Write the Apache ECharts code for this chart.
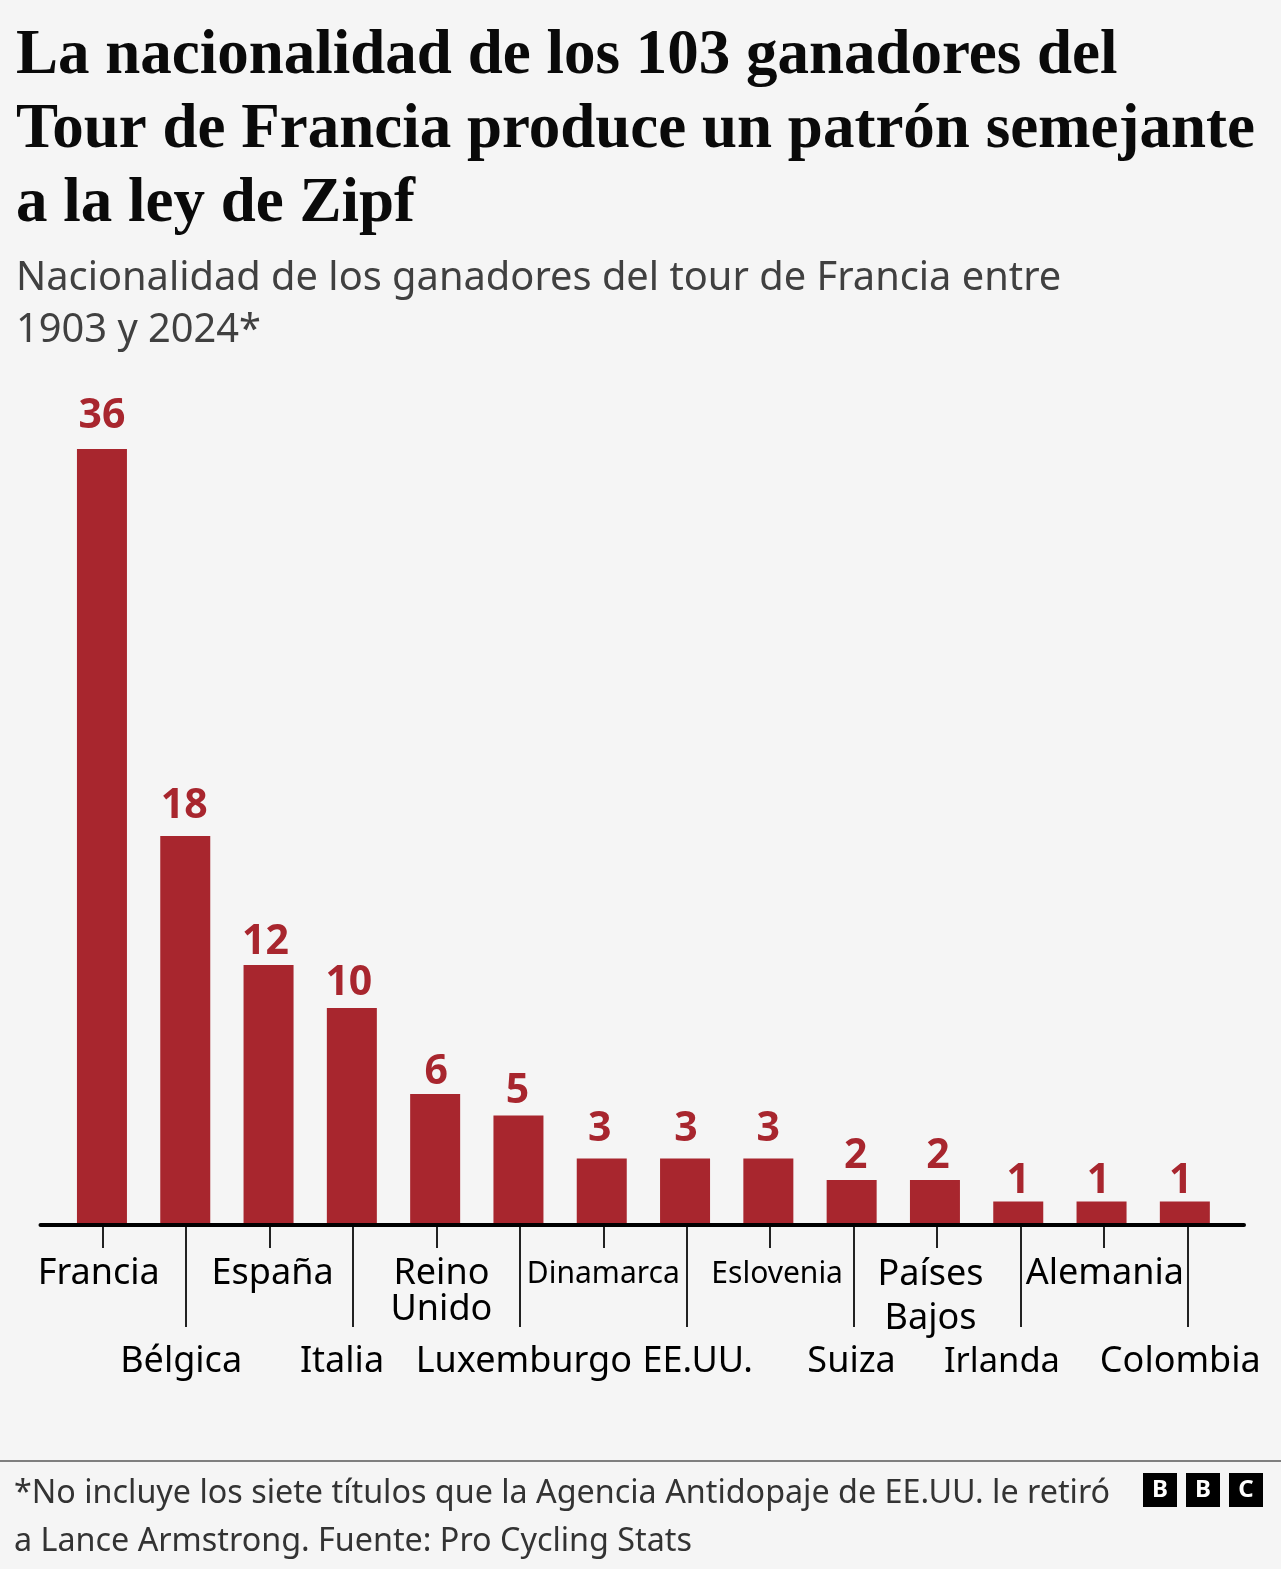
<!DOCTYPE html>
<html>
<head>
<meta charset="utf-8">
<style>
  html, body { margin: 0; padding: 0; background: #f5f5f5; }
  #chart { width: 1281px; height: 1569px; }
</style>
<script src="https://cdn.jsdelivr.net/npm/echarts@6/dist/echarts.min.js"></script>
</head>
<body>
<div id="chart"></div>
<script>
const countries = ['Francia', 'Bélgica', 'España', 'Italia', 'Reino\nUnido', 'Luxemburgo', 'Dinamarca', 'EE.UU.', 'Eslovenia', 'Suiza', 'Países\nBajos', 'Irlanda', 'Alemania', 'Colombia']
const wins = [36, 18, 12, 10, 6, 5, 3, 3, 3, 2, 2, 1, 1, 1]

const titleText = 'La nacionalidad de los 103 ganadores del\nTour de Francia produce un patrón semejante\na la ley de Zipf'
const subtitleText = 'Nacionalidad de los ganadores del tour de Francia entre\n1903 y 2024*'
const footText = '*No incluye los siete títulos que la Agencia Antidopaje de EE.UU. le retiró\na Lance Armstrong. Fuente: Pro Cycling Stats'

// ajustes finos de las etiquetas, no son datos
const valueNudge = [[0, -7], [-1, -4], [-3, 3], [-3, 1], [1, 4], [-1, 1], [-2, -4], [1, -4], [0, -4], [4, 2], [3, 2], [0, 5], [-3, 5], [-4, 5]]
const nameNudge = [-4, -5, 3, -11, 5, 4, 0, 11, 7, -2, -6.5, -18.5, 1, -7]
const nameSizes = { 'Dinamarca': 30, 'Eslovenia': 30, 'Irlanda': 34.5 }

const red = '#a8262e'
const sans = '"Noto Sans", sans-serif'

function nameItem(name, i) {
  // padding desplaza el texto centrado sin salir de la escala del eje
  let dx = nameNudge[i]
  let tall = name.indexOf('Países') === 0
  let top = tall ? 0 : 3
  return {
    value: name,
    textStyle: {
      fontSize: nameSizes[name] || 36,
      lineHeight: tall ? 44 : 36,
      padding: dx > 0 ? [top, 0, 0, dx * 2] : [top, -dx * 2, 0, 0]
    }
  }
}

function bottomAxis(keep, tickLen, margin) {
  return {
    type: 'category',
    gridIndex: 1,
    position: 'bottom',
    data: countries.map(nameItem),
    axisLine: { show: false },
    axisTick: {
      show: true,
      alignWithLabel: true,
      length: tickLen,
      interval: keep,
      lineStyle: { color: '#222', width: 2 }
    },
    axisLabel: {
      interval: keep,
      margin: margin,
      color: '#000',
      fontFamily: sans,
      hideOverlap: false
    }
  }
}

let myChart = echarts.init(document.getElementById('chart'), null, { renderer: 'canvas' })

myChart.setOption({
  animation: false,
  backgroundColor: '#f5f5f5',
  title: [
    { text: titleText, left: 11, top: 15, textStyle: { fontFamily: '"Liberation Serif", serif', fontWeight: 'bold', fontSize: 63, lineHeight: 74, color: '#0a0a0a' } },
    { text: subtitleText, left: 11, top: 248, textStyle: { fontFamily: sans, fontWeight: 'normal', fontSize: 39.8, lineHeight: 52, color: '#404040' } },
    { text: footText, left: 9, top: 1465, textStyle: { fontFamily: sans, fontWeight: 'normal', fontSize: 32.3, lineHeight: 48, color: '#333' } }
  ],
  // las barras y las marcas del eje no van exactamente a la par en el original
  grid: [
    { left: 60.3, width: 1166.2, top: 449, height: 774 },
    { left: 61, width: 1168, top: 449, height: 775 }
  ],
  xAxis: [
    { type: 'category', gridIndex: 0, data: countries, show: false },
    bottomAxis(function (i) { return i % 2 === 0 }, 24, 29),
    bottomAxis(function (i) { return i % 2 === 1 }, 103, 117)
  ],
  yAxis: [
    { type: 'value', gridIndex: 0, min: 0, max: 36, show: false },
    { type: 'value', gridIndex: 1, min: 0, max: 36, show: false }
  ],
  series: [{
    type: 'bar',
    xAxisIndex: 0,
    yAxisIndex: 0,
    barWidth: 50,
    itemStyle: { color: red },
    label: {
      show: true,
      position: 'top',
      distance: 5,
      color: red,
      fontFamily: sans,
      fontWeight: 'bold',
      fontSize: 41
    },
    data: wins.map(function (v, i) {
      return { value: v, label: { offset: valueNudge[i] } }
    })
  }],
  graphic: [
    { type: 'line', shape: { x1: 40.5, y1: 1225, x2: 1244, y2: 1225 }, style: { stroke: '#000', lineWidth: 4, lineCap: 'round' }, z: 10 },
    { type: 'rect', shape: { x: 0, y: 1460, width: 1281, height: 2 }, style: { fill: '#7f7f7f' } },
    { type: 'rect', shape: { x: 1143, y: 1473, width: 34, height: 34 }, style: { fill: '#000' } },
    { type: 'rect', shape: { x: 1186, y: 1473, width: 34, height: 34 }, style: { fill: '#000' } },
    { type: 'rect', shape: { x: 1229, y: 1473, width: 34, height: 34 }, style: { fill: '#000' } },
    { type: 'text', z: 5, style: { text: 'B', x: 1160, y: 1490, align: 'center', verticalAlign: 'middle', fill: '#fff', font: 'bold 24px ' + sans } },
    { type: 'text', z: 5, style: { text: 'B', x: 1203, y: 1490, align: 'center', verticalAlign: 'middle', fill: '#fff', font: 'bold 24px ' + sans } },
    { type: 'text', z: 5, style: { text: 'C', x: 1246, y: 1490, align: 'center', verticalAlign: 'middle', fill: '#fff', font: 'bold 24px ' + sans } }
  ]
})

window.addEventListener('resize', function () {
  myChart.resize()
})
</script>
</body>
</html>
